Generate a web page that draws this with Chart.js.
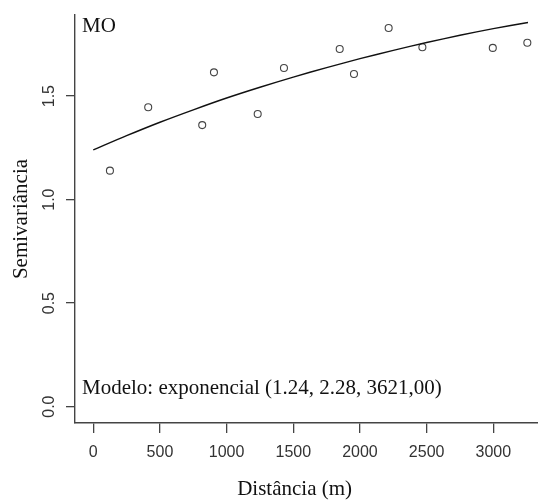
<!DOCTYPE html>
<html>
<head>
<meta charset="utf-8">
<script src="https://cdn.jsdelivr.net/npm/chart.js@4"></script>
<style>
  html, body { margin: 0; padding: 0; background: #fff; }
  #wrap { width: 538px; height: 502px; }
</style>
</head>
<body>
<div id="wrap"><canvas id="chart" width="538" height="502"></canvas></div>
<script>
// experimental semivariogram points
const distances = [125, 412, 817, 905, 1233, 1430, 1848, 1955, 2215, 2468, 2996, 3255];
const semivar = [1.14, 1.446, 1.36, 1.615, 1.414, 1.636, 1.728, 1.607, 1.829, 1.736, 1.733, 1.758];

// fitted model line
const modelDist = [0, 250, 500, 750, 1000, 1250, 1500, 1750, 2000, 2250, 2500, 2750, 3000, 3260];
const modelSemivar = [1.24, 1.309, 1.374, 1.434, 1.491, 1.543, 1.592, 1.638, 1.681, 1.721, 1.759, 1.794, 1.826, 1.856];

const xTicks = [0, 500, 1000, 1500, 2000, 2500, 3000];
const yTicks = [0.0, 0.5, 1.0, 1.5];
const yTickLabels = ['0.0', '0.5', '1.0', '1.5'];

const panelLabel = 'MO';
const modelLabel = 'Modelo: exponencial (1.24, 2.28, 3621,00)';
const xTitle = 'Distância (m)';
const yTitle = 'Semivariância';

const serif = '"Liberation Serif", "Times New Roman", serif';
const sans = '"Liberation Sans", Arial, sans-serif';

// draws the rotated y labels, axis titles and the text inside the plot
const textPlugin = {
    id: 'rText',
    afterDraw(chart) {
        const ctx = chart.ctx;
        const area = chart.chartArea;
        const xs = chart.scales.x;
        const ys = chart.scales.y;
        ctx.save();

        // y tick labels, rotated like R's default
        ctx.fillStyle = '#333';
        ctx.font = '16px ' + sans;
        ctx.textAlign = 'center';
        ctx.textBaseline = 'middle';
        yTicks.forEach((v, i) => {
            ctx.save();
            ctx.translate(50, ys.getPixelForValue(v));
            ctx.rotate(-Math.PI / 2);
            ctx.fillText(yTickLabels[i], 0, 0);
            ctx.restore();
        });

        ctx.fillStyle = '#111';
        ctx.font = '21px ' + serif;
        ctx.save();
        ctx.translate(21, (area.top + area.bottom) / 2);
        ctx.rotate(-Math.PI / 2);
        ctx.fillText(yTitle, 0, 0);
        ctx.restore();

        ctx.textBaseline = 'alphabetic';
        ctx.fillText(xTitle, xs.getPixelForValue(1510), 495);

        ctx.textAlign = 'left';
        ctx.fillText(panelLabel, area.left + 7, 32);
        ctx.fillText(modelLabel, area.left + 7, 394);
        ctx.restore();
    }
};

new Chart(document.getElementById('chart'), {
    type: 'scatter',
    data: {
        datasets: [{
            label: 'Modelo',
            type: 'line',
            data: modelDist.map((d, i) => ({ x: d, y: modelSemivar[i] })),
            borderColor: '#111',
            borderWidth: 1.4,
            pointRadius: 0,
            fill: false,
            tension: 0.3
        }, {
            label: 'Semivariância',
            data: distances.map((d, i) => ({ x: d, y: semivar[i] })),
            pointStyle: 'circle',
            pointRadius: 3.5,
            pointBorderWidth: 1.1,
            borderColor: '#444',
            backgroundColor: 'rgba(255,255,255,0)'
        }]
    },
    options: {
        responsive: false,
        animation: false,
        layout: { autoPadding: false, padding: { top: 15, right: 0, left: 0, bottom: 0 } },
        plugins: {
            legend: { display: false },
            tooltip: { enabled: false }
        },
        scales: {
            x: {
                type: 'linear',
                min: -137,
                max: 3335,
                afterBuildTicks: (axis) => { axis.ticks = xTicks.map(v => ({ value: v })); },
                afterFit: (axis) => { axis.height = 79; },
                border: { display: true, color: '#444', width: 1.4 },
                grid: { drawOnChartArea: false, drawTicks: true, tickLength: 10, color: '#444', lineWidth: 1.3 },
                ticks: {
                    color: '#333',
                    font: { family: sans, size: 16 },
                    padding: 10,
                    maxRotation: 0,
                    autoSkip: false,
                    callback: (v) => String(v)
                }
            },
            y: {
                type: 'linear',
                min: -0.079,
                max: 1.892,
                afterBuildTicks: (axis) => { axis.ticks = yTicks.map(v => ({ value: v })); },
                afterFit: (axis) => { axis.width = 75; },
                border: { display: true, color: '#444', width: 1.4 },
                grid: { drawOnChartArea: false, drawTicks: true, tickLength: 9, color: '#444', lineWidth: 1.3 },
                ticks: {
                    color: 'rgba(0,0,0,0)',
                    font: { family: sans, size: 16 },
                    autoSkip: false
                }
            }
        }
    },
    plugins: [textPlugin]
});
</script>
</body>
</html>
